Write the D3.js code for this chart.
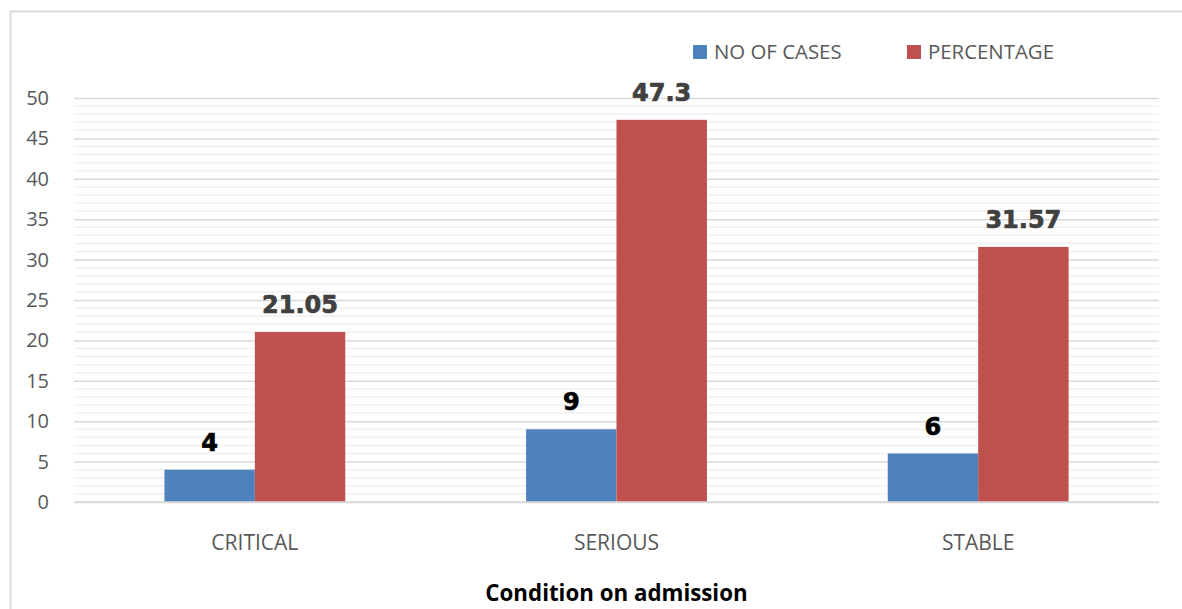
<!DOCTYPE html>
<html>
<head>
<meta charset="utf-8">
<script src="https://cdn.jsdelivr.net/npm/d3@7"></script>
<style>
  html, body { margin: 0; padding: 0; background: #fff; }
  svg { display: block; }
</style>
</head>
<body>
<svg id="chart" width="1182" height="609"></svg>
<script>
// Condition on admission: number of cases and percentage per category
const categories = ["CRITICAL", "SERIOUS", "STABLE"];
const seriesNames = ["NO OF CASES", "PERCENTAGE"];
const noOfCases = [4, 9, 6];
const percentage = [21.05, 47.3, 31.57];
const percentageLabels = ["21.05", "47.3", "31.57"];
const yTicks = [0, 5, 10, 15, 20, 25, 30, 35, 40, 45, 50];
const colors = ["#4F81BD", "#C0504D"];
const labelColors = ["#000000", "#404040"];

const svg = d3.select("#chart");
const W = 1182, H = 609;
const plot = { left: 74, right: 1159, top: 98, bottom: 502 };
const font = "'Open Sans', 'Liberation Sans', sans-serif";

// outer chart frame
svg.append("rect")
  .attr("x", 10.5).attr("y", 11.5)
  .attr("width", W + 10).attr("height", H + 10)
  .attr("fill", "#fff").attr("stroke", "#d9d9d9").attr("stroke-width", 2);

const x0 = d3.scaleBand().domain(categories).range([plot.left, plot.right]).paddingInner(0).paddingOuter(0);
const groupW = x0.bandwidth() * 0.5;
const x1 = d3.scaleBand().domain(seriesNames).range([0, groupW]).padding(0);
const y = d3.scaleLinear().domain([0, 50]).range([plot.bottom, plot.top]);

// minor gridlines every unit
const minor = d3.range(1, 50).filter(v => v % 5 !== 0);
svg.append("g").selectAll("line").data(minor).join("line")
  .attr("x1", plot.left).attr("x2", plot.right)
  .attr("y1", d => y(d)).attr("y2", d => y(d))
  .attr("stroke", "#f0f0f0").attr("stroke-width", 1.5);

// major gridlines via axis
const yAxis = d3.axisLeft(y).tickValues(yTicks).tickSize(-(plot.right - plot.left)).tickPadding(25);
const gy = svg.append("g").attr("transform", `translate(${plot.left},0)`).call(yAxis);
gy.select(".domain").remove();
gy.selectAll(".tick line").attr("stroke", "#d9d9d9").attr("stroke-width", 1.5);
gy.selectAll(".tick text")
  .attr("fill", "#595959").style("font-family", font).style("font-size", "20px");

// bars
const data = categories.map((c, i) => ({
  cat: c,
  values: [
    { key: seriesNames[0], v: noOfCases[i], label: String(noOfCases[i]) },
    { key: seriesNames[1], v: percentage[i], label: percentageLabels[i] }
  ]
}));

const groups = svg.append("g").selectAll("g").data(data).join("g")
  .attr("transform", d => `translate(${x0(d.cat) + (x0.bandwidth() - groupW) / 2},0)`);

groups.selectAll("rect").data(d => d.values).join("rect")
  .attr("x", d => x1(d.key))
  .attr("y", d => y(d.v))
  .attr("width", x1.bandwidth())
  .attr("height", d => y(0) - y(d.v))
  .attr("fill", (d, i) => colors[i]);

// value labels above each bar
groups.selectAll("text").data(d => d.values).join("text")
  .attr("x", d => x1(d.key) + x1.bandwidth() / 2)
  .attr("y", d => y(d.v) - 19)
  .attr("text-anchor", "middle")
  .attr("fill", (d, i) => labelColors[i])
  .style("font-family", "'DejaVu Sans', sans-serif")
  .style("font-weight", "bold")
  .style("font-size", "24px")
  .style("stroke", (d, i) => labelColors[i])
  .style("stroke-width", "0.7px")
  .text(d => d.label);

// x axis baseline
svg.append("line")
  .attr("x1", plot.left).attr("x2", plot.right)
  .attr("y1", y(0)).attr("y2", y(0))
  .attr("stroke", "#d9d9d9").attr("stroke-width", 1.5);

// category labels
const xAxis = d3.axisBottom(x0).tickSize(0).tickPadding(0);
const gx = svg.append("g").attr("transform", `translate(0,${plot.bottom})`).call(xAxis);
gx.select(".domain").remove();
gx.selectAll(".tick text")
  .attr("y", 48).attr("dy", 0)
  .attr("fill", "#595959").style("font-family", font).style("font-size", "21px");

// axis title
svg.append("text")
  .attr("x", (plot.left + plot.right) / 2).attr("y", 601)
  .attr("text-anchor", "middle")
  .attr("fill", "#000")
  .style("font-family", font).style("font-weight", "bold").style("font-size", "22.3px")
  .text("Condition on admission");

// legend
const legendX = [693, 907];
const legend = svg.append("g").selectAll("g").data(seriesNames).join("g")
  .attr("transform", (d, i) => `translate(${legendX[i]},45)`);
legend.append("rect").attr("width", 14).attr("height", 14).attr("fill", (d, i) => colors[i]);
legend.append("text")
  .attr("x", 21).attr("y", 14)
  .attr("fill", "#595959").style("font-family", font).style("font-size", "20.4px")
  .text(d => d);
</script>
</body>
</html>
